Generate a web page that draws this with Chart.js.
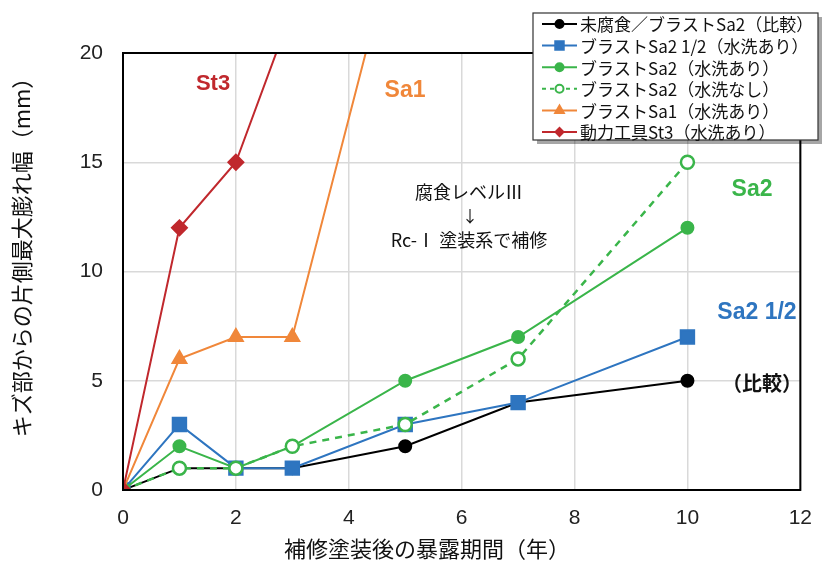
<!DOCTYPE html>
<html lang="ja">
<head>
<meta charset="UTF-8">
<title>補修塗装後の膨れ幅</title>
<script src="https://cdn.jsdelivr.net/npm/chart.js"></script>
<style>
  html, body { margin: 0; padding: 0; background: #fff; }
  #wrap { width: 828px; height: 565px; position: relative; }
</style>
</head>
<body>
<div id="wrap"><canvas id="c"></canvas></div>
<script>
// 暴露期間（年）
const years = [0, 1, 2, 3, 5, 7, 10];
const yearsSa1 = [0, 1, 2, 3, 5];
const yearsSt3 = [0, 1, 2, 3];

// 片側最大膨れ幅（mm）
const hikaku = [0, 1, 1, 1, 2, 4, 5];
const sa2half = [0, 3, 1, 1, 3, 4, 7];
const sa2Wash = [0, 2, 1, 2, 5, 7, 12];
const sa2NoWash = [0, 1, 1, 2, 3, 6, 15];
const sa1Wash = [0, 6, 7, 7, 27];
const st3Wash = [0, 12, 15, 22];

const xTicks = [0, 2, 4, 6, 8, 10, 12];
const yTicks = [0, 5, 10, 15, 20];

const seriesNames = [
  '未腐食／ブラストSa2（比較）',
  'ブラストSa2 1/2（水洗あり）',
  'ブラストSa2（水洗あり）',
  'ブラストSa2（水洗なし）',
  'ブラストSa1（水洗あり）',
  '動力工具St3（水洗あり）'
];
const xTitle = '補修塗装後の暴露期間（年）';
const yTitle = 'キズ部からの片側最大膨れ幅（mm）';

const BLACK = '#000000', BLUE = '#2E75C0', GREEN = '#3AB54A', ORANGE = '#F0873A', RED = '#C0282D';
const jp = '"Noto Sans CJK JP", "Liberation Sans", sans-serif';
const latin = '"Liberation Sans", Arial, sans-serif';

const pts = (xs, ys) => xs.map((x, i) => ({ x: x, y: ys[i] }));

// 凡例の見本（上から順に）
const legendStyle = [
  { color: BLACK, style: 'circle', r: 4, fill: BLACK, dash: [] },
  { color: BLUE, style: 'rect', r: 6, fill: BLUE, dash: [] },
  { color: GREEN, style: 'circle', r: 4, fill: GREEN, dash: [] },
  { color: GREEN, style: 'circle', r: 4, fill: '#fff', dash: [4, 4] },
  { color: ORANGE, style: 'triangle', r: 5, fill: ORANGE, dash: [] },
  { color: RED, style: 'rectRot', r: 4, fill: RED, dash: [] }
];

// 最後に描いた系列が上になるよう逆順に並べる
const datasets = [
  { label: seriesNames[5], data: pts(yearsSt3, st3Wash), borderColor: RED, backgroundColor: RED,
    borderWidth: 2, pointStyle: 'rectRot', pointRadius: 7.5 },
  { label: seriesNames[4], data: pts(yearsSa1, sa1Wash), borderColor: ORANGE, backgroundColor: ORANGE,
    borderWidth: 2, pointStyle: 'triangle', pointRadius: 8 },
  { label: seriesNames[3], data: pts(years, sa2NoWash), borderColor: GREEN, backgroundColor: '#fff',
    borderWidth: 2.5, borderDash: [7, 6], pointStyle: 'circle', pointRadius: 6.5, pointBorderWidth: 2.5 },
  { label: seriesNames[2], data: pts(years, sa2Wash), borderColor: GREEN, backgroundColor: GREEN,
    borderWidth: 2, pointStyle: 'circle', pointRadius: 6 },
  { label: seriesNames[1], data: pts(years, sa2half), borderColor: BLUE, backgroundColor: BLUE,
    borderWidth: 2, pointStyle: 'rect', pointRadius: 9.5 },
  { label: seriesNames[0], data: pts(years, hikaku), borderColor: BLACK, backgroundColor: BLACK,
    borderWidth: 2, pointStyle: 'circle', pointRadius: 6 }
];

// 注記テキスト
const notes = [
  { text: 'St3', x: 213, y: 84, color: RED, font: 'bold 22px ' + latin },
  { text: 'Sa1', x: 405, y: 91, color: ORANGE, font: 'bold 23px ' + latin },
  { text: '腐食レベルⅢ', x: 469, y: 192, color: '#111', font: '18px ' + jp },
  { text: '↓', x: 470, y: 216, color: '#111', font: '16px ' + jp },
  { text: 'Rc-Ⅰ 塗装系で補修', x: 469, y: 240, color: '#111', font: '18px ' + jp },
  { text: 'Sa2', x: 752, y: 190, color: GREEN, font: 'bold 23px ' + latin },
  { text: 'Sa2 1/2', x: 757, y: 313, color: BLUE, font: 'bold 23px ' + latin },
  { text: '（比較）', x: 762, y: 383, color: '#111', font: 'bold 20px ' + jp }
];

const framePlugin = {
  id: 'frame',
  afterDraw(chart) {
    const ctx = chart.ctx, a = chart.chartArea;
    ctx.save();
    ctx.strokeStyle = '#000';
    ctx.lineWidth = 2;
    ctx.strokeRect(a.left, a.top, a.right - a.left, a.bottom - a.top);

    // 軸タイトル
    ctx.fillStyle = '#111';
    ctx.font = '22px ' + jp;
    ctx.textAlign = 'center';
    ctx.textBaseline = 'middle';
    ctx.fillText(xTitle, 427, 549);
    ctx.save();
    ctx.translate(22, 252);
    ctx.rotate(-Math.PI / 2);
    ctx.fillText(yTitle, 0, 0);
    ctx.restore();

    // 注記
    notes.forEach(n => {
      ctx.font = n.font;
      ctx.fillStyle = n.color;
      ctx.fillText(n.text, n.x, n.y);
    });

    // 凡例の枠（影付き）
    const bx = 533, by = 13, bw = 285, bh = 127;
    ctx.fillStyle = 'rgba(0,0,0,0.35)';
    ctx.fillRect(bx + 4, by + 4, bw, bh);
    ctx.fillStyle = '#fff';
    ctx.fillRect(bx, by, bw, bh);
    ctx.strokeStyle = '#333';
    ctx.lineWidth = 1.2;
    ctx.strokeRect(bx, by, bw, bh);

    ctx.textAlign = 'left';
    ctx.font = '17px ' + jp;
    seriesNames.forEach((name, i) => {
      const s = legendStyle[i];
      const yy = by + 11 + i * 21.6;
      ctx.strokeStyle = s.color;
      ctx.lineWidth = 2;
      ctx.setLineDash(s.dash);
      ctx.beginPath();
      ctx.moveTo(542, yy);
      ctx.lineTo(577, yy);
      ctx.stroke();
      ctx.setLineDash([]);
      ctx.fillStyle = s.fill;
      Chart.helpers.drawPoint(ctx, { pointStyle: s.style, radius: s.r, borderWidth: 2 }, 559.5, yy);
      ctx.fillStyle = '#111';
      ctx.fillText(name, 580, yy + 1);
    });
    ctx.restore();
  }
};

new Chart(document.getElementById('c'), {
  type: 'line',
  data: { datasets: datasets },
  options: {
    responsive: true,
    maintainAspectRatio: false,
    animation: false,
    layout: { padding: { left: 10, top: 53, right: 16, bottom: 0 } },
    plugins: { legend: { display: false }, tooltip: { enabled: false } },
    elements: { line: { tension: 0 } },
    scales: {
      x: {
        type: 'linear',
        min: 0, max: 12,
        afterBuildTicks: s => { s.ticks = xTicks.map(v => ({ value: v })); },
        afterFit: s => { s.height = 75; },
        grid: { color: '#d9d9d9', lineWidth: 1.5, drawTicks: false },
        border: { display: false },
        ticks: { color: '#222', padding: 16, font: { size: 21, family: latin } },
        title: { display: false }
      },
      y: {
        min: 0, max: 20,
        afterBuildTicks: s => { s.ticks = yTicks.map(v => ({ value: v })); },
        afterFit: s => { s.width = 113; },
        grid: { color: '#d9d9d9', lineWidth: 1.5, drawTicks: false },
        border: { display: false },
        ticks: { color: '#222', padding: 20, font: { size: 21, family: latin } },
        title: { display: false }
      }
    }
  },
  plugins: [framePlugin]
});
</script>
</body>
</html>
